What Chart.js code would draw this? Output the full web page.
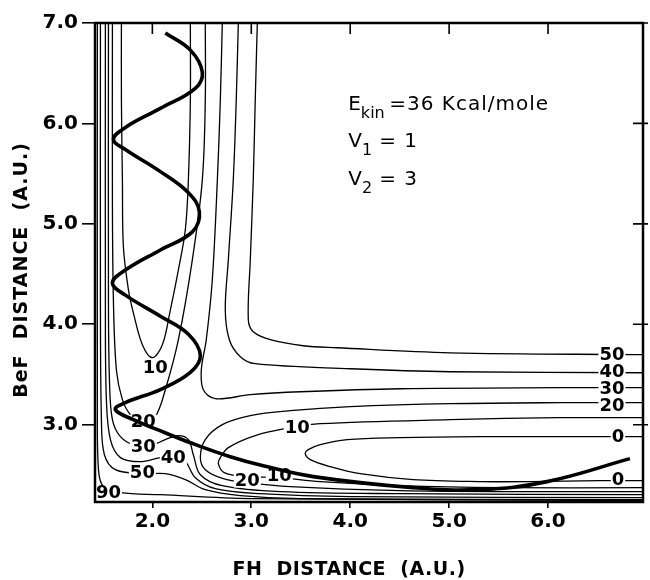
<!DOCTYPE html>
<html>
<head>
<meta charset="utf-8">
<script src="https://cdn.jsdelivr.net/npm/chart.js@4.4.1/dist/chart.umd.min.js"></script>
<style>
  html, body { margin: 0; padding: 0; background: #fff; }
  #wrap { width: 650px; height: 580px; }
</style>
</head>
<body>
<div id="wrap"><canvas id="pes"></canvas></div>
<script>
// axis ranges (a.u.) and tick values
const fhRange = [1.42, 6.96];
const befRange = [2.23, 7.0];
const fhTicks = [2, 3, 4, 5, 6];
const befTicks = [3, 4, 5, 6, 7];

// contour lines, [FH, BeF] pairs in a.u., energies in kcal/mole
const level0 = [[6.96,2.881],[6.121,2.881],[5.313,2.881],[4.505,2.871],[3.970,2.851],[3.697,2.801],[3.576,2.751],[3.545,2.711],[3.596,2.652],[3.798,2.582],[4.101,2.512],[4.636,2.453],[5.313,2.433],[5.818,2.433],[6.525,2.443],[6.96,2.443]];
const level10Exit = [[1.687,7.0],[1.687,6.234],[1.697,5.438],[1.707,4.771],[1.758,4.343],[1.808,4.114],[1.899,3.796],[2.0,3.667],[2.101,3.796],[2.182,4.144],[2.263,4.542],[2.333,4.940],[2.364,5.438],[2.384,6.234],[2.384,7.0]];
const level10Entry = [[6.96,3.070],[6.121,3.070],[5.010,3.050],[3.697,3.010],[3.394,2.970],[3.040,2.891],[2.768,2.771],[2.687,2.672],[2.667,2.612],[2.727,2.522],[2.939,2.483],[3.273,2.473],[3.697,2.433],[4.505,2.393],[5.515,2.373],[6.96,2.373]];
const level20Exit = [[1.596,7.0],[1.596,5.239],[1.606,4.244],[1.636,3.547],[1.697,3.249],[1.778,3.100],[1.909,3.010],[2.030,3.080],[2.131,3.348],[2.263,3.846],[2.404,4.642],[2.505,5.438],[2.535,6.234],[2.535,7.0]];
const level20Entry = [[6.96,3.219],[6.121,3.219],[5.010,3.209],[4.0,3.179],[3.394,3.139],[2.990,3.090],[2.707,3.0],[2.535,2.851],[2.485,2.672],[2.535,2.552],[2.717,2.463],[2.960,2.423],[3.394,2.383],[4.505,2.343],[5.717,2.333],[6.96,2.333]];
const level30Inner = [[2.707,7.0],[2.687,6.234],[2.657,5.438],[2.606,4.443],[2.545,3.846],[2.495,3.547],[2.515,3.348],[2.636,3.259],[2.990,3.299],[3.495,3.328],[4.505,3.358],[6.121,3.368],[6.96,3.368]];
const level40Inner = [[2.869,7.0],[2.848,6.234],[2.818,5.438],[2.768,4.642],[2.737,4.144],[2.778,3.846],[2.889,3.677],[3.040,3.607],[4.0,3.557],[5.010,3.527],[6.96,3.517]];
const level50Inner = [[3.061,7.0],[3.040,6.234],[3.020,5.438],[2.990,4.642],[2.970,4.045],[3.020,3.925],[3.192,3.846],[3.525,3.786],[3.869,3.766],[5.010,3.716],[6.96,3.697]];
const level30Outer = [[1.556,7.0],[1.556,4.244],[1.566,3.448],[1.596,3.050],[1.677,2.881],[1.828,2.791],[1.980,2.791],[2.131,2.851],[2.263,2.891],[2.364,2.851],[2.414,2.701],[2.485,2.502],[2.707,2.393],[3.293,2.333],[4.505,2.313],[6.96,2.303]];
const level40Outer = [[1.525,7.0],[1.525,4.244],[1.535,3.249],[1.576,2.851],[1.677,2.672],[1.879,2.632],[2.081,2.672],[2.212,2.672],[2.333,2.632],[2.434,2.472],[2.636,2.363],[3.091,2.313],[4.0,2.284],[6.96,2.274]];
const level50Outer = [[1.475,7.0],[1.475,4.244],[1.485,3.050],[1.515,2.701],[1.626,2.552],[1.899,2.512],[2.131,2.512],[2.333,2.453],[2.535,2.353],[2.889,2.294],[3.495,2.264],[6.96,2.254]];
const level90Outer = [[1.444,7.0],[1.444,3.249],[1.455,2.552],[1.505,2.383],[1.677,2.323],[2.081,2.303],[2.990,2.264],[6.96,2.244]];

// classical trajectory
const trajectory = [[2.131,6.90],[2.384,6.73],[2.505,6.51],[2.434,6.35],[2.081,6.15],[1.727,5.96],[1.606,5.84],[1.727,5.74],[2.081,5.52],[2.364,5.31],[2.475,5.12],[2.404,4.92],[2.081,4.74],[1.727,4.54],[1.596,4.41],[1.727,4.29],[2.081,4.08],[2.364,3.90],[2.485,3.69],[2.384,3.52],[2.081,3.35],[1.727,3.22],[1.626,3.15],[1.808,3.05],[2.051,2.95],[2.384,2.82],[2.788,2.68],[3.121,2.59],[3.626,2.483],[4.636,2.373],[5.313,2.353],[5.990,2.433],[6.828,2.662]];

// contour labels: text, FH, BeF
const contourLabels = [
  ['10', 2.030, 3.567], ['20', 1.909, 3.030], ['30', 1.909, 2.781], ['40', 2.212, 2.672],
  ['50', 1.899, 2.522], ['90', 1.556, 2.323], ['20', 2.960, 2.443], ['10', 3.283, 2.493],
  ['10', 3.465, 2.970],
  ['50', 6.646, 3.697], ['40', 6.646, 3.527], ['30', 6.646, 3.358], ['20', 6.646, 3.189],
  ['0', 6.707, 2.881], ['0', 6.707, 2.453]
];

const contourLines = [level0, level10Exit, level10Entry, level20Exit, level20Entry,
  level30Inner, level40Inner, level50Inner, level30Outer, level40Outer, level50Outer, level90Outer];

const toXY = pts => pts.map(([x, y]) => ({ x, y }));

const datasets = [{
  data: toXY(trajectory),
  borderColor: '#000',
  borderWidth: 3.6,
  tension: 0.4,
  pointRadius: 0,
  showLine: true
}].concat(contourLines.map(pts => ({
  data: toXY(pts),
  borderColor: '#000',
  borderWidth: 1.3,
  tension: 0.35,
  pointRadius: 0,
  showLine: true
})));

const tickFont = { family: 'DejaVu Sans', size: 20, weight: 'bold' };

const framePlugin = {
  id: 'frame',
  beforeDatasetDraw(chart, args) {
    // labels sit above the contours but under the trajectory
    if (args.index !== 0) return;
    const { ctx, scales: { x, y } } = chart;
    ctx.save();
    ctx.font = 'bold 18px DejaVu Sans';
    ctx.textAlign = 'center';
    ctx.textBaseline = 'middle';
    contourLabels.forEach(([t, vx, vy]) => {
      const px = x.getPixelForValue(vx), py = y.getPixelForValue(vy);
      const w = ctx.measureText(t).width;
      ctx.fillStyle = '#fff';
      ctx.fillRect(px - w / 2 - 1, py - 7, w + 2, 14);
      ctx.fillStyle = '#000';
      ctx.fillText(t, px, py + 1);
    });
    ctx.restore();
  },
  afterDraw(chart) {
    const { ctx, chartArea: a, scales: { x, y } } = chart;
    ctx.save();
    ctx.strokeStyle = '#000';
    ctx.lineWidth = 2.5;
    ctx.strokeRect(a.left, a.top, a.right - a.left, a.bottom - a.top);
    ctx.lineWidth = 1.6;
    ctx.beginPath();
    fhTicks.forEach(v => {
      const px = x.getPixelForValue(v);
      ctx.moveTo(px, a.top); ctx.lineTo(px, a.top + 11);
    });
    befTicks.forEach(v => {
      const py = y.getPixelForValue(v);
      ctx.moveTo(a.right - 10, py); ctx.lineTo(a.right + 5, py);
    });
    ctx.stroke();

    // axis titles
    ctx.fillStyle = '#000';
    ctx.font = 'bold 19px DejaVu Sans';
    ctx.textAlign = 'center';
    ctx.textBaseline = 'middle';
    ctx.letterSpacing = '0.5px';
    ctx.fillText('FH  DISTANCE  (A.U.)', 349, 570);
    ctx.save();
    ctx.letterSpacing = '1px';
    ctx.translate(22, 270);
    ctx.rotate(-Math.PI / 2);
    ctx.fillText('BeF  DISTANCE  (A.U.)', 0, 0);
    ctx.restore();

    // run parameters
    ctx.textAlign = 'left';
    ctx.textBaseline = 'alphabetic';
    const bx = x.getPixelForValue(3.98);
    const lines = [[6.134, 'E', 'kin', '=36 Kcal/mole', 41], [5.766, 'V', '1', '= 1', 31], [5.388, 'V', '2', '= 3', 31]];
    lines.forEach(([vy, main, sub, rest, off]) => {
      const by = y.getPixelForValue(vy);
      ctx.letterSpacing = '1px';
      ctx.font = '20px DejaVu Sans';
      ctx.fillText(main, bx, by);
      const cx = bx + ctx.measureText(main).width - 1;
      ctx.letterSpacing = '0px';
      ctx.font = '16px DejaVu Sans';
      ctx.fillText(sub, cx, by + 8);
      ctx.letterSpacing = '1px';
      ctx.font = '20px DejaVu Sans';
      ctx.fillText(rest, bx + off, by);
    });
    ctx.restore();
  }
};

new Chart(document.getElementById('pes'), {
  type: 'scatter',
  data: { datasets },
  options: {
    responsive: true,
    maintainAspectRatio: false,
    animation: false,
    layout: { padding: { top: 23, right: 7, left: 0, bottom: 0 } },
    plugins: { legend: { display: false }, tooltip: { enabled: false } },
    scales: {
      x: {
        type: 'linear', min: fhRange[0], max: fhRange[1],
        afterBuildTicks: s => { s.ticks = fhTicks.map(v => ({ value: v })); },
        afterFit: s => { s.height = 78; },
        grid: { drawOnChartArea: false, tickLength: 6, color: '#000', lineWidth: 1.6 },
        border: { display: false },
        ticks: { color: '#000', font: tickFont, padding: 2, callback: v => v.toFixed(1) }
      },
      y: {
        type: 'linear', min: befRange[0], max: befRange[1],
        afterBuildTicks: s => { s.ticks = befTicks.map(v => ({ value: v })); },
        afterFit: s => { s.width = 95; },
        grid: { drawOnChartArea: false, tickLength: 13, color: '#000', lineWidth: 1.6 },
        border: { display: false },
        ticks: { color: '#000', font: tickFont, padding: 4, callback: v => v.toFixed(1) }
      }
    }
  },
  plugins: [framePlugin]
});
</script>
</body>
</html>
